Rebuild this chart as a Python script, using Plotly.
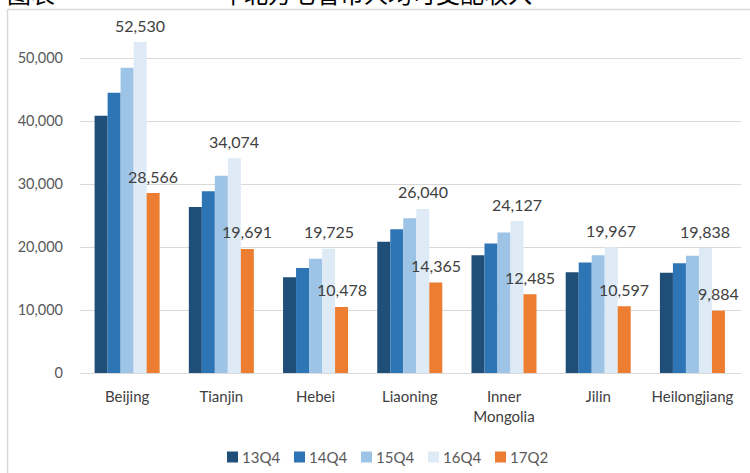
import plotly.graph_objects as go

provinces = ["Beijing", "Tianjin", "Hebei", "Liaoning", "Inner<br>Mongolia", "Jilin", "Heilongjiang"]
series_names = ["13Q4", "14Q4", "15Q4", "16Q4", "17Q2"]
q13 = [40830, 26359, 15190, 20818, 18693, 15998, 15903]
q14 = [44489, 28832, 16647, 22820, 20559, 17520, 17404]
q15 = [48458, 31291, 18118, 24576, 22310, 18684, 18593]
q16 = [52530, 34074, 19725, 26040, 24127, 19967, 19838]
q17 = [28566, 19691, 10478, 14365, 12485, 10597, 9884]
labelled = [False, False, False, True, True]
colors = ["#1F4E79", "#2E75B6", "#9DC3E6", "#DEEBF7", "#ED7D31"]
y_ticks = [0, 10000, 20000, 30000, 40000, 50000]
title_left = "图表"
title_right = "年北方七省市人均可支配收入"

W, H = 750, 473
ML, MR, MT, MB = 80, 9, 27, 100
PW, PH = W - ML - MR, H - MT - MB
BARGAP = 0.31

def px_x(p):
    return (p - ML) / PW

def px_y(p):
    return (H - MB - p) / PH

all_series = [q13, q14, q15, q16, q17]
n_series = len(all_series)
cat_w = PW / len(provinces)
bar_w = cat_w * (1 - BARGAP) / n_series

fig = go.Figure()
annotations = []
for i, (name, vals, col, lab) in enumerate(zip(series_names, all_series, colors, labelled)):
    fig.add_trace(go.Bar(
        name=name, x=provinces, y=vals, marker=dict(color=col, line=dict(width=0)),
        showlegend=False,
    ))
    if lab:
        shift = (i - (n_series - 1) / 2) * bar_w
        for p, v in zip(provinces, vals):
            annotations.append(dict(text=f"{v:,}", x=p, y=v, xref="x", yref="y", showarrow=False,
                                    xanchor="center", yanchor="middle", xshift=shift, yshift=17,
                                    font=dict(family="Lato", size=16, color="#404040")))

shapes = [
    dict(type="line", xref="paper", yref="paper", x0=px_x(7.5), x1=px_x(W + 5), y0=px_y(9.5), y1=px_y(9.5),
         line=dict(color="#D9D9D9", width=1.5)),
    dict(type="line", xref="paper", yref="paper", x0=px_x(7.5), x1=px_x(7.5), y0=px_y(9.5), y1=px_y(H + 5),
         line=dict(color="#D9D9D9", width=1.5)),
]
annotations += [
    dict(text=title_left, xref="paper", yref="paper", x=px_x(5), y=px_y(-8), xanchor="left", yanchor="middle",
         showarrow=False, font=dict(family="Noto Sans CJK SC", size=24, color="#000000")),
    dict(text=title_right, xref="paper", yref="paper", x=px_x(218), y=px_y(-8), xanchor="left", yanchor="middle",
         showarrow=False, font=dict(family="Noto Sans CJK SC", size=24, color="#000000")),
]
# manual legend
leg_x0, leg_step, leg_y = 227, 67, 457
for i, (name, col) in enumerate(zip(series_names, colors)):
    sx = leg_x0 + i * leg_step
    shapes.append(dict(type="rect", xref="paper", yref="paper", x0=px_x(sx), x1=px_x(sx + 11),
                       y0=px_y(leg_y + 5.5), y1=px_y(leg_y - 5.5), fillcolor=col, line=dict(width=0)))
    annotations.append(dict(text=name, xref="paper", yref="paper", x=px_x(sx + 13), y=px_y(leg_y),
                            xanchor="left", yanchor="middle", showarrow=False,
                            font=dict(family="Lato", size=15, color="#595959")))

fig.update_layout(
    width=W, height=H, margin=dict(l=ML, r=MR, t=MT, b=MB),
    paper_bgcolor="white", plot_bgcolor="white",
    barmode="group", bargap=BARGAP, bargroupgap=0,
    showlegend=False, shapes=shapes, annotations=annotations,
    xaxis=dict(showgrid=False, ticks="", tickfont=dict(family="Lato", size=15, color="#404040"),
               showline=True, linecolor="#D9D9D9", linewidth=1, ticklabelstandoff=10),
    yaxis=dict(range=[0, PH / 0.0063], tickvals=y_ticks, tickformat=",", showgrid=True,
               gridcolor="#D9D9D9", gridwidth=1, zeroline=False, showline=False, ticks="",
               tickfont=dict(family="Lato", size=14.5, color="#595959"), ticklabelstandoff=16),
)
fig.write_html("out.html")
